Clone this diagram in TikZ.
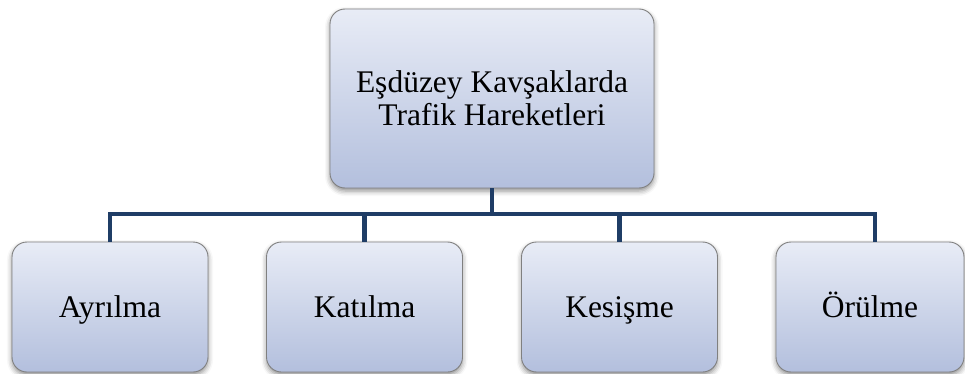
\documentclass[tikz,border=0pt]{standalone}
\usepackage{fontspec}
\setmainfont{Liberation Serif}
\usetikzlibrary{shadows.blur}
\definecolor{boxtop}{HTML}{E8ECF6}
\definecolor{boxbottom}{HTML}{B3BFDD}
\definecolor{boxline}{HTML}{808080}
\definecolor{busline}{HTML}{1F3D66}
\tikzset{
  card/.style={draw=boxline, line width=0.9pt, rounded corners=15pt,
    top color=boxtop, bottom color=boxbottom, inner sep=0pt,
    align=center, text=black,
    blur shadow={shadow xshift=0pt, shadow yshift=-3pt,
      shadow blur radius=5pt, shadow opacity=45}},
  headcard/.style={card, minimum width=324pt, minimum height=179pt,
    font=\fontsize{31.5}{33}\selectfont},
  leafcard/.style={card, minimum width=196pt, minimum height=130pt,
    text height=28pt, text depth=7pt,
    font=\fontsize{31.5}{33}\selectfont},
  bus/.style={draw=busline, line width=4.5pt, line join=miter}
}
\begin{document}
\begin{tikzpicture}[x=1pt, y=-1pt]
  \useasboundingbox (0,0) rectangle (965,374);
  % root and leaf boxes
  \node[headcard] (root) at (492,98.5) {Eşdüzey Kavşaklarda\\Trafik Hareketleri};
  \node[leafcard] (ayr) at (110,307) {Ayrılma};
  \node[leafcard] (kat) at (364.5,307) {Katılma};
  \node[leafcard] (kes) at (619.5,307) {Kesişme};
  \node[leafcard, minimum width=188pt] (oru) at (870,307) {Örülme};
  % bus connector
  \coordinate (lvl) at (0,214);
  \draw[bus] (ayr.north) -- (ayr.north |- lvl) -- ([xshift=5pt]oru.north |- lvl) -- ([xshift=5pt]oru.north);
  \draw[bus] (root.south) -- (root.south |- lvl);
  \draw[bus] (kat.north) -- (kat.north |- lvl);
  \draw[bus] (kes.north) -- (kes.north |- lvl);
\end{tikzpicture}
\end{document}
